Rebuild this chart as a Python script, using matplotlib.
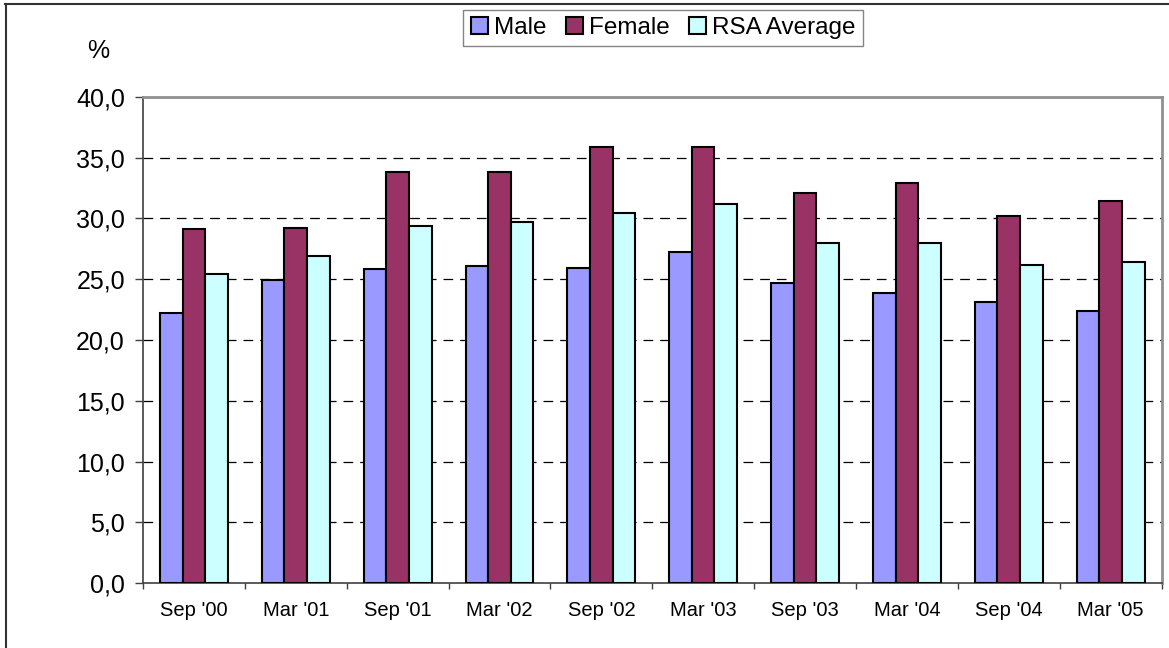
import matplotlib
matplotlib.use("Agg")
import matplotlib.pyplot as plt
import numpy as np
from matplotlib.patches import Patch
from matplotlib.lines import Line2D

categories = ["Sep '00", "Mar '01", "Sep '01", "Mar '02", "Sep '02",
              "Mar '03", "Sep '03", "Mar '04", "Sep '04", "Mar '05"]
male = [22.2, 24.9, 25.8, 26.1, 25.9, 27.2, 24.7, 23.9, 23.1, 22.4]
female = [29.1, 29.2, 33.8, 33.8, 35.9, 35.9, 32.1, 32.9, 30.2, 31.4]
rsa_avg = [25.4, 26.9, 29.4, 29.7, 30.4, 31.2, 28.0, 28.0, 26.2, 26.4]
series_names = ["Male", "Female", "RSA Average"]
series_colors = ["#9999FF", "#993366", "#CCFFFF"]
yticks = [0, 5, 10, 15, 20, 25, 30, 35, 40]

plt.rcParams['font.family'] = ['Liberation Sans', 'DejaVu Sans']
plt.rcParams['lines.scale_dashes'] = False

W, H = 1169, 648
fig = plt.figure(figsize=(W / 100, H / 100), dpi=100)
ax = fig.add_axes([143 / W, 1 - 583.3 / H, (1161.5 - 143) / W, (583.3 - 96.7) / H])

n = len(categories)
x = np.arange(n)
bw = 1 / 4.5
for i, (vals, c) in enumerate(zip([male, female, rsa_avg], series_colors)):
    ax.bar(x + (i - 1) * bw, vals, width=bw, color=c, edgecolor='black',
           linewidth=1.5, zorder=3)

ax.set_xlim(-0.5, n - 0.5)
ax.set_ylim(0, 40)
ax.set_yticks(yticks)
ax.set_yticklabels([f"{v:.1f}".replace('.', ',') for v in yticks], fontsize=18)
ax.set_xticks(x)
ax.set_xticklabels(categories, fontsize=14.5)
ax.tick_params(axis='x', length=0, pad=13)
ax.set_xticks(np.arange(n + 1) - 0.5, minor=True)
ax.tick_params(axis='x', which='minor', length=4.5, width=1, color='#404040')
ax.tick_params(axis='y', length=6, width=1, color='#404040', pad=7)

for v in yticks[1:-1]:
    ax.axhline(v, color='black', lw=0.9, dashes=(7, 5), zorder=1)

for s in ['left', 'bottom']:
    ax.spines[s].set_color('#404040')
    ax.spines[s].set_linewidth(1.2)
for s in ['top', 'right']:
    ax.spines[s].set_color('#909090')
    ax.spines[s].set_linewidth(2)

fig.text(98 / W, 1 - 51 / H, "%", fontsize=18, ha='center', va='center')

# outer chart frame
fig.add_artist(Line2D([5 / W, 1], [1 - 4 / H, 1 - 4 / H], color='#333333', lw=1.5,
                      transform=fig.transFigure))
fig.add_artist(Line2D([5.5 / W, 5.5 / W], [0, 1 - 4 / H], color='#333333', lw=1.5,
                      transform=fig.transFigure))

handles = [Patch(facecolor=c, edgecolor='black', linewidth=1.5) for c in series_colors]
leg = fig.legend(handles, series_names, loc='center', ncol=3,
                 bbox_to_anchor=(663 / W, 1 - 28 / H), fontsize=17.5,
                 handlelength=0.7, handleheight=0.7, handletextpad=0.25,
                 columnspacing=0.8, borderpad=0.3, fancybox=False,
                 frameon=True, edgecolor='#666666', borderaxespad=0)
leg.get_frame().set_linewidth(1)

fig.savefig("out.png", dpi=100)
